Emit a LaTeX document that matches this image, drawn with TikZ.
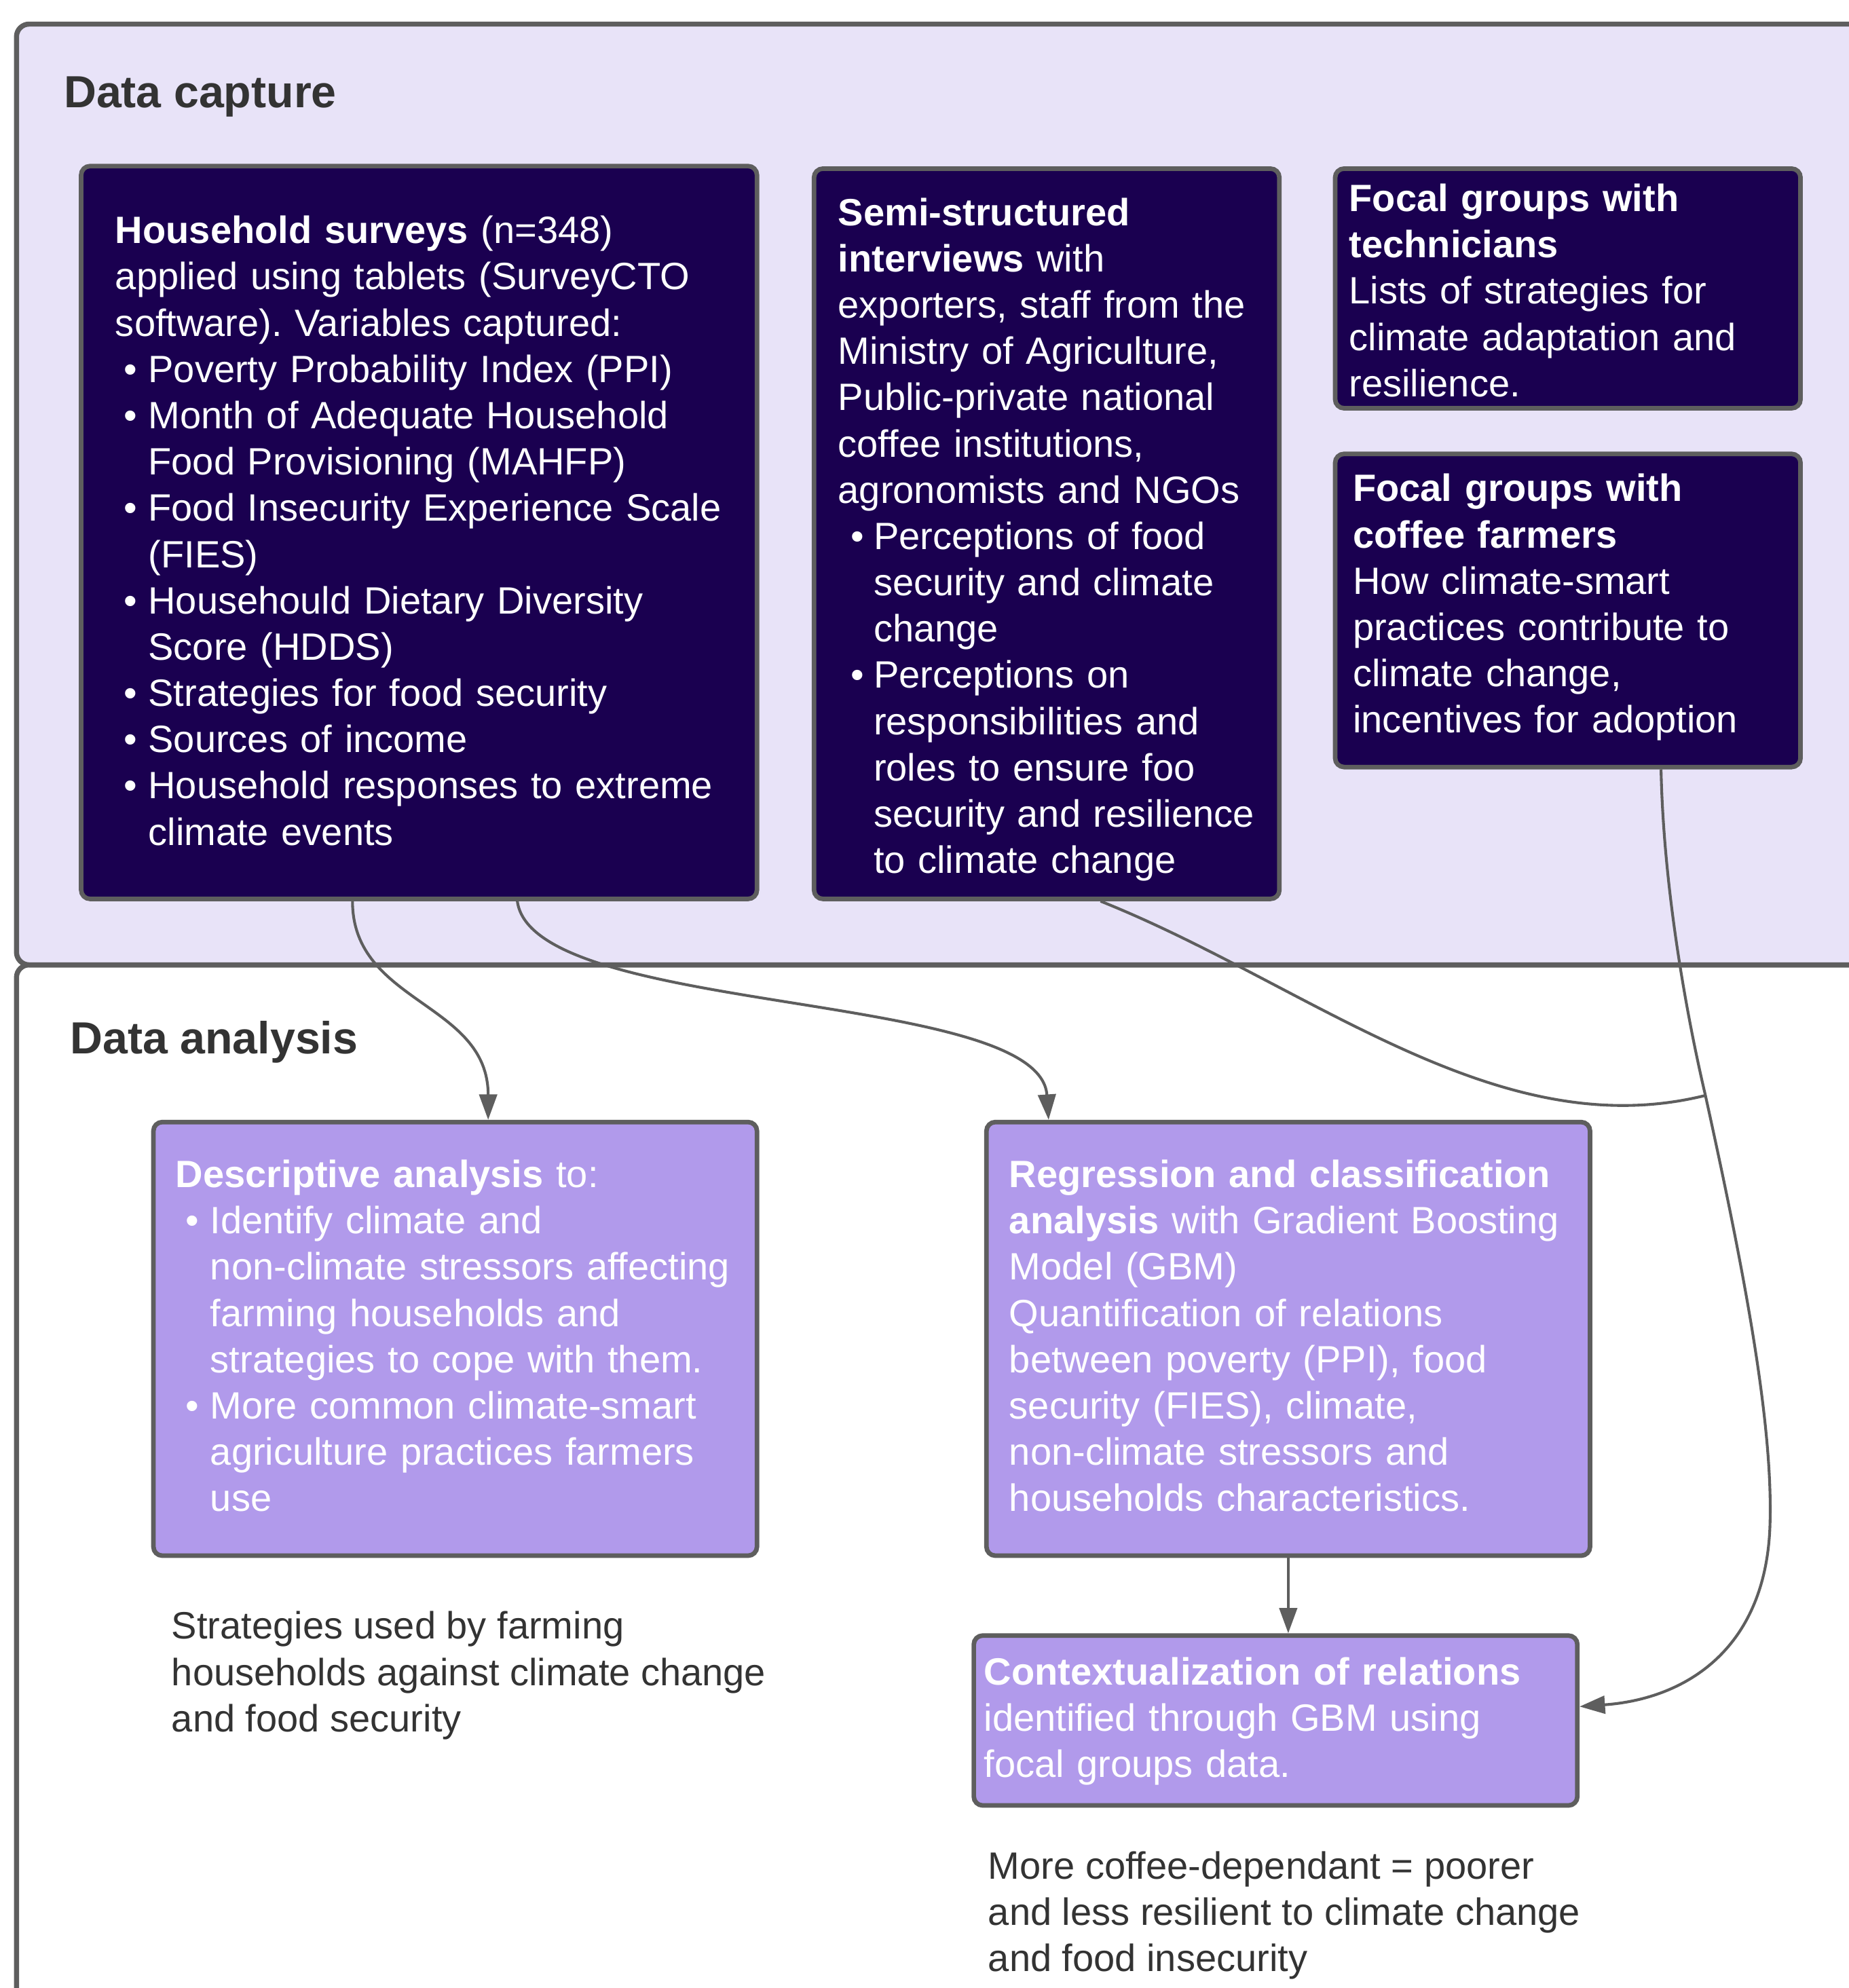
\documentclass[tikz,border=0pt]{standalone}
\usepackage{fontspec}
\setmainfont{Liberation Sans}
\usetikzlibrary{arrows.meta}
\definecolor{navy}{HTML}{1A0050}
\definecolor{lilac}{HTML}{B19AEB}
\definecolor{lav}{HTML}{E8E3F8}
\definecolor{edge}{HTML}{5E5E5E}
\definecolor{ink}{HTML}{333333}
\setlength{\parindent}{0pt}
\frenchspacing
\newlength{\bulind}\setlength{\bulind}{13pt}
\newlength{\bulgap}\setlength{\bulgap}{3.3pt}
\newcommand{\bul}{\makebox[\bulind][l]{\hspace*{\bulgap}\textbullet}}
\newcommand{\cont}{\hspace*{\bulind}}
\newcommand{\boxfont}{\fontsize{15}{18.25}\selectfont}
\newcommand{\titlefont}{\fontsize{17.75}{21}\selectfont\bfseries}
\newcommand{\down}[2]{\raisebox{-#1}[\height][\depth]{#2}}
\newenvironment{lns}{\begin{tabular}{@{}l@{}}}{\end{tabular}}
\tikzset{
  frame/.style={draw=edge,line width=2pt,rounded corners=5pt},
  capbox/.style={draw=edge,fill=navy,text=white,line width=1.8pt,rounded corners=3.5pt,
    align=left,inner ysep=0pt,font=\boxfont},
  anbox/.style={capbox,fill=lilac},
  note/.style={anchor=west,inner sep=0pt,text=ink,font=\boxfont},
  flow/.style={draw=edge,line width=1.1pt,-{Triangle[length=10pt,width=7pt]}},
  link/.style={draw=edge,line width=1.1pt}
}
\begin{document}
\begin{tikzpicture}[x=0.5pt,y=-0.5pt]
    \useasboundingbox (0,0) rectangle (1458,1568);
    \draw[frame,fill=white] (13,761) rectangle (1480,1600);
    \draw[frame,fill=lav] (13,19) rectangle (1480,761);
    \node[anchor=base west,inner sep=0pt,text=ink,font=\titlefont] (captitle) at (50,85) {Data capture};
    \node[anchor=base west,inner sep=0pt,text=ink,font=\titlefont] (antitle) at (55,831) {Data analysis};

    \node[capbox,text width=239.5pt,inner xsep=13.5pt,minimum height=289pt] (hh) at (330.5,420) {\down{1pt}{\begin{lns}
      \textbf{Household surveys} (n=348)\\
      applied using tablets (SurveyCTO\\
      software). Variables captured:\\
      \bul Poverty Probability Index (PPI)\\
      \bul Month of Adequate Household\\
      \cont Food Provisioning (MAHFP)\\
      \bul Food Insecurity Experience Scale\\
      \cont (FIES)\\
      \bul Househould Dietary Diversity\\
      \cont Score (HDDS)\\
      \bul Strategies for food security\\
      \bul Sources of income\\
      \bul Household responses to extreme\\
      \cont climate events
    \end{lns}}};
    \node[capbox,text width=164.5pt,inner xsep=9.5pt,minimum height=288pt] (semi) at (825.5,421) {%
      \setlength{\bulind}{14pt}\setlength{\bulgap}{4.9pt}\down{2.5pt}{\begin{lns}
      \textbf{Semi-structured}\\
      \textbf{interviews} with\\
      exporters, staff from the\\
      Ministry of Agriculture,\\
      Public-private national\\
      coffee institutions,\\
      agronomists and NGOs\\
      \bul Perceptions of food\\
      \cont security and climate\\
      \cont change\\
      \bul Perceptions on\\
      \cont responsibilities and\\
      \cont roles to ensure foo\\
      \cont security and resilience\\
      \cont to climate change
    \end{lns}}};
    \node[capbox,text width=172.5pt,inner xsep=5.5pt,minimum height=94.5pt] (tech) at (1236.5,227.5) {\down{2.5pt}{\begin{lns}
      \textbf{Focal groups with}\\
      \textbf{technicians}\\
      Lists of strategies for\\
      climate adaptation and\\
      resilience.
    \end{lns}}};
    \node[capbox,text width=169.5pt,inner xsep=7pt,minimum height=123.5pt] (farm) at (1236.5,481.5) {\down{-1pt}{\begin{lns}
      \textbf{Focal groups with}\\
      \textbf{coffee farmers}\\
      How climate-smart\\
      practices contribute to\\
      climate change,\\
      incentives for adoption
    \end{lns}}};

    \node[anbox,text width=220.5pt,inner xsep=8.75pt,minimum height=171pt] (desc) at (359,1056) {%
      \setlength{\bulind}{13.7pt}\setlength{\bulgap}{3.9pt}\down{0.5pt}{\begin{lns}
      \textbf{Descriptive analysis} to:\\
      \bul Identify climate and\\
      \cont non-climate stressors affecting\\
      \cont farming households and\\
      \cont strategies to cope with them.\\
      \bul More common climate-smart\\
      \cont agriculture practices farmers\\
      \cont use
    \end{lns}}};
    \node[anbox,text width=220pt,inner xsep=9pt,minimum height=171pt] (regr) at (1016,1056) {\down{0.5pt}{\begin{lns}
      \textbf{Regression and classification}\\
      \textbf{analysis} with Gradient Boosting\\
      Model (GBM)\\
      Quantification of relations\\
      between poverty (PPI), food\\
      security (FIES), climate,\\
      non-climate stressors and\\
      households characteristics.
    \end{lns}}};
    \node[anbox,text width=230pt,inner xsep=4pt,minimum height=67pt] (ctx) at (1006,1357) {\down{0.5pt}{\begin{lns}
      \textbf{Contextualization of relations}\\
      identified through GBM using\\
      focal groups data.
    \end{lns}}};

    \node[note] (strat) at (135,1322) {\begin{lns}
      Strategies used by farming\\
      households against climate change\\
      and food security
    \end{lns}};
    \node[note] (result) at (779,1511) {\begin{lns}
      More coffee-dependant = poorer\\
      and less resilient to climate change\\
      and food insecurity
    \end{lns}};

    \coordinate (jn) at (1345,864);
    \draw[flow] ([xshift=-26.25pt]hh.south) .. controls +(0,81) and +(0,-93) .. ([xshift=13pt]desc.north);
    \draw[flow] ([xshift=38.75pt]hh.south) .. controls +(12,91) and +(-7,-103) .. ([xshift=-94.5pt]regr.north);
    \draw[link] ([xshift=21.25pt]semi.south) .. controls +(165,66) and +(-165,41) .. (jn);
    \draw[flow] ([xshift=36.75pt]farm.south) .. controls +(2,94) and +(-15,-64) .. (jn)
        .. controls +(30,136) and (1398,1120) .. (1396,1200)
        .. controls (1394,1300) and (1330,1340) .. ([yshift=5.5pt]ctx.east);
    \draw[flow] (regr.south) -- (regr.south |- ctx.north);
\end{tikzpicture}
\end{document}
